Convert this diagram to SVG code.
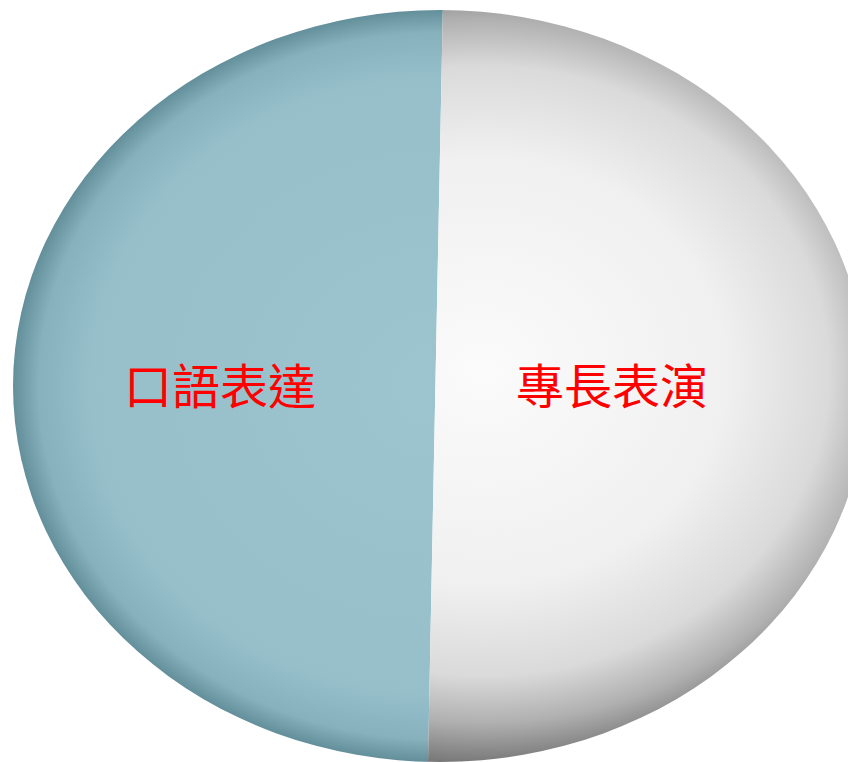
<svg xmlns="http://www.w3.org/2000/svg" width="848" height="762" viewBox="0 0 848 762">
  <defs>
    <radialGradient id="gTeal" cx="0.5" cy="0.5" r="0.5">
      <stop offset="0" stop-color="#9dc5d0"/>
      <stop offset="0.82" stop-color="#96bfca"/>
      <stop offset="0.94" stop-color="#86b1bd"/>
      <stop offset="1" stop-color="#638f9b"/>
    </radialGradient>
    <radialGradient id="gWhite" cx="0.55" cy="0.48" r="0.52">
      <stop offset="0" stop-color="#fbfbfb"/>
      <stop offset="0.55" stop-color="#f0f0f0"/>
      <stop offset="0.78" stop-color="#dadada"/>
      <stop offset="0.9" stop-color="#b0b0b0"/>
      <stop offset="1" stop-color="#7a7a7a"/>
    </radialGradient>
    <clipPath id="leftHalf"><polygon points="0,0 443,0 428,762 0,762"/></clipPath>
    <clipPath id="rightHalf"><polygon points="443,0 848,0 848,762 428,762"/></clipPath>
    <style>
      .lbl { font-family: "Noto Sans CJK TC", "Noto Sans CJK SC", sans-serif; font-size: 48px; fill: #ff0000; text-anchor: middle; }
    </style>
  </defs>
  <rect width="848" height="762" fill="#ffffff"/>
  <g id="left-segment">
    <ellipse cx="440" cy="386" rx="427" ry="376" fill="url(#gTeal)" clip-path="url(#leftHalf)"/>
    <text class="lbl" x="220" y="404">口語表達</text>
  </g>
  <g id="right-segment">
    <ellipse cx="440" cy="386" rx="427" ry="376" fill="url(#gWhite)" clip-path="url(#rightHalf)"/>
    <text class="lbl" x="612" y="404">專長表演</text>
  </g>
  <g id="connectors"/>
</svg>
